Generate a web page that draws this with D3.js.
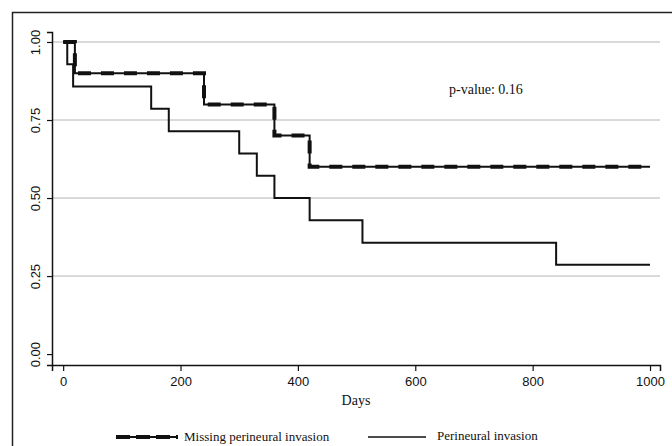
<!DOCTYPE html>
<html>
<head>
<meta charset="utf-8">
<script src="https://cdn.jsdelivr.net/npm/d3@7"></script>
<style>
    body { margin: 0; background: #fff; }
    .tick text { font-family: "Liberation Sans", Arial, sans-serif; font-size: 13px; fill: #111; }
    .serif { font-family: "Liberation Serif", "Times New Roman", serif; fill: #111; }
</style>
</head>
<body>
<script>
(function () {

    //Kaplan-Meier step data
    var missingDays = [0, 20, 240, 360, 420, 1000];
    var missingSurv = [1.00, 0.90, 0.80, 0.70, 0.60, 0.60];
    var periDays = [0, 7, 17, 150, 180, 300, 330, 360, 420, 510, 840, 1000];
    var periSurv = [1.00, 0.929, 0.857, 0.786, 0.714, 0.643, 0.571, 0.500, 0.429, 0.357, 0.286, 0.286];

    var xTicks = [0, 200, 400, 600, 800, 1000];
    var yTicks = [0, 0.25, 0.5, 0.75, 1];
    var gridTicks = [0.25, 0.5, 0.75, 1];
    var legendLabels = ["Missing perineural invasion", "Perineural invasion"];
    var pValueLabel = "p-value: 0.16";

    var width = 672,
        height = 446;

    var svg = d3.select("body")
        .append("svg")
        .attr("width", width)
        .attr("height", height);

    //outer frame (only top and left edges are in view)
    svg.append("path")
        .attr("d", "M12.5,446V12.5H672")
        .attr("fill", "none")
        .attr("stroke", "#222")
        .attr("stroke-width", 1.5);

    var x = d3.scaleLinear()
        .domain([-19, 1017])
        .range([52, 660]);

    var y = d3.scaleLinear()
        .domain([-0.035, 1.032])
        .range([365, 32]);

    //gridlines
    svg.selectAll(".grid")
        .data(gridTicks)
        .enter()
        .append("line")
        .attr("class", "grid")
        .attr("x1", x.range()[0])
        .attr("x2", x.range()[1])
        .attr("y1", function (d) { return y(d); })
        .attr("y2", function (d) { return y(d); })
        .attr("stroke", "#b4b4b4")
        .attr("stroke-width", 1);

    //x axis
    var xAxis = svg.append("g")
        .attr("transform", "translate(0," + y.range()[0] + ")")
        .call(d3.axisBottom(x).tickValues(xTicks).tickFormat(d3.format("d"))
            .tickSizeOuter(0).tickSize(6).tickPadding(6));
    xAxis.select(".domain").attr("stroke", "#111").attr("stroke-width", 1.5);
    xAxis.selectAll(".tick line").attr("stroke", "#111").attr("stroke-width", 1.2);

    //y axis with rotated labels
    var yAxis = svg.append("g")
        .attr("transform", "translate(" + x.range()[0] + ",0)")
        .call(d3.axisLeft(y).tickValues(yTicks).tickFormat(d3.format(".2f")).tickSizeOuter(0).tickSize(5));
    yAxis.select(".domain").attr("stroke", "#111").attr("stroke-width", 1.5);
    yAxis.selectAll(".tick line").attr("stroke", "#111").attr("stroke-width", 1.2);
    yAxis.selectAll(".tick text")
        .attr("x", 0)
        .attr("dy", 0)
        .attr("text-anchor", "middle")
        .attr("transform", "translate(-12,0) rotate(-90)");

    //axis title
    svg.append("text")
        .attr("class", "serif")
        .attr("x", 356)
        .attr("y", 405)
        .attr("text-anchor", "middle")
        .style("font-size", "14px")
        .text("Days");

    var line = d3.line()
        .x(function (d) { return x(d[0]); })
        .y(function (d) { return y(d[1]); })
        .curve(d3.curveStepAfter);

    var missing = d3.zip(missingDays, missingSurv);
    var peri = d3.zip(periDays, periSurv);

    //perineural invasion (solid)
    svg.append("path")
        .datum(peri)
        .attr("d", line)
        .attr("fill", "none")
        .attr("stroke", "#111")
        .attr("stroke-width", 2);

    //missing perineural invasion (thin solid with thick dashes)
    svg.append("path")
        .datum(missing)
        .attr("d", line)
        .attr("fill", "none")
        .attr("stroke", "#111")
        .attr("stroke-width", 2);
    svg.append("path")
        .datum(missing)
        .attr("d", line)
        .attr("fill", "none")
        .attr("stroke", "#111")
        .attr("stroke-width", 4)
        .attr("stroke-dasharray", "13,10");

    //p-value
    svg.append("text")
        .attr("class", "serif")
        .attr("x", 449)
        .attr("y", 94)
        .style("font-size", "14px")
        .text(pValueLabel);

    //legend
    var lg = svg.append("g");
    lg.append("line")
        .attr("x1", 116).attr("x2", 178)
        .attr("y1", 437).attr("y2", 437)
        .attr("stroke", "#111").attr("stroke-width", 2);
    lg.append("line")
        .attr("x1", 116).attr("x2", 178)
        .attr("y1", 437).attr("y2", 437)
        .attr("stroke", "#111").attr("stroke-width", 4)
        .attr("stroke-dasharray", "14,6");
    lg.append("text")
        .attr("class", "serif")
        .attr("x", 184)
        .attr("y", 441)
        .style("font-size", "13px")
        .text(legendLabels[0]);
    lg.append("line")
        .attr("x1", 368).attr("x2", 426)
        .attr("y1", 437).attr("y2", 437)
        .attr("stroke", "#111").attr("stroke-width", 1.5);
    lg.append("text")
        .attr("class", "serif")
        .attr("x", 437)
        .attr("y", 440)
        .style("font-size", "13px")
        .text(legendLabels[1]);

})();
</script>
</body>
</html>
